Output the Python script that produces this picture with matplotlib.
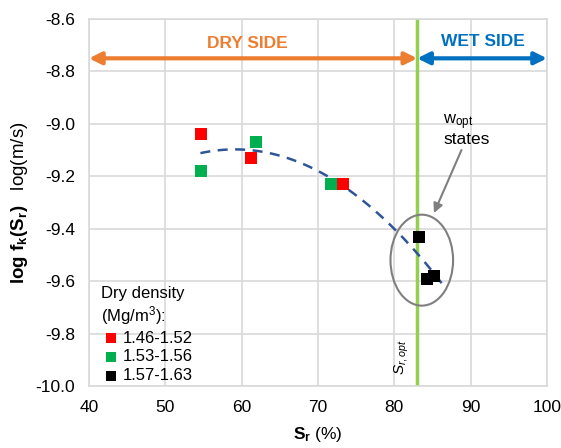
import numpy as np
import matplotlib.pyplot as plt
from matplotlib.patches import Ellipse

plt.rcParams['font.family'] = ['Liberation Sans', 'DejaVu Sans']
plt.rcParams['mathtext.fontset'] = 'custom'
plt.rcParams['mathtext.rm'] = 'Liberation Sans'
plt.rcParams['mathtext.it'] = 'Liberation Sans:italic'
plt.rcParams['mathtext.bf'] = 'Liberation Sans:bold'

# data
sr_low = [54.7, 61.2, 73.3]
logk_low = [-9.04, -9.13, -9.23]
sr_mid = [54.7, 61.9, 71.7]
logk_mid = [-9.18, -9.07, -9.23]
sr_high = [83.2, 84.3, 85.2]
logk_high = [-9.43, -9.59, -9.58]
groups = ['1.46-1.52', '1.53-1.56', '1.57-1.63']
colors = ['#FF0000', '#00B050', '#000000']
sr_opt = 83.0

fig = plt.figure(figsize=(5.61, 4.48), dpi=100)
ax = fig.add_axes([0.1586, 0.1384, 0.8164, 0.8192])

# quadratic trend line through all points
x_all = np.array(sr_low + sr_mid + sr_high)
y_all = np.array(logk_low + logk_mid + logk_high)
p = np.polyfit(x_all, y_all, 2)
xt = np.linspace(54.6, 86.2, 100)
ax.plot(xt, np.polyval(p, xt), '--', color='#2F5597', lw=1.8, dashes=(4, 3), zorder=3)

for xs, ys, c, g in zip([sr_low, sr_mid, sr_high], [logk_low, logk_mid, logk_high], colors, groups):
    ax.scatter(xs, ys, marker='s', s=75, color=c, label=g, zorder=4, linewidths=0)

# optimum line
ax.axvline(sr_opt, color='#92D050', lw=2.5, zorder=2)
ax.text(sr_opt - 2.0, -9.89, r'$S_{r,opt}$', rotation=90, ha='center', va='center', fontsize=11)

# dry / wet side arrows
ax.annotate('', xy=(40, -8.75), xytext=(sr_opt, -8.75),
            arrowprops=dict(arrowstyle='<|-|>', color='#ED7D31', lw=3, mutation_scale=18, shrinkA=0, shrinkB=0))
ax.annotate('', xy=(sr_opt, -8.75), xytext=(100, -8.75),
            arrowprops=dict(arrowstyle='<|-|>', color='#0070C0', lw=3, mutation_scale=18, shrinkA=0, shrinkB=0))
ax.text(60.8, -8.695, 'DRY SIDE', color='#ED7D31', fontsize=12.5, fontweight='bold', ha='center', va='center')
ax.text(91.6, -8.685, 'WET SIDE', color='#0070C0', fontsize=12.5, fontweight='bold', ha='center', va='center')

# w_opt states ellipse + arrow
ax.add_patch(Ellipse((83.6, -9.52), 8.2, 0.347, fill=False, edgecolor='#7F7F7F', lw=1.5, zorder=5))
ax.annotate('', xy=(85.2, -9.34), xytext=(88.8, -9.10),
            arrowprops=dict(arrowstyle='-|>', color='#7F7F7F', lw=1.5, mutation_scale=14, shrinkA=0, shrinkB=0))
ax.text(86.4, -8.995, r'w$_{\mathregular{opt}}$', fontsize=12, ha='left', va='center')
ax.text(86.4, -9.06, 'states', fontsize=12.5, ha='left', va='center')

ax.set_xlim(40, 100)
ax.set_ylim(-10.0, -8.6)
ax.set_xticks(np.arange(40, 101, 10))
ax.set_yticks(np.arange(-10.0, -8.59, 0.2))
ax.set_yticklabels(['%.1f' % v for v in np.arange(-10.0, -8.59, 0.2)])
ax.tick_params(length=0, labelsize=12.5, pad=10)
ax.grid(color='#D9D9D9', lw=1.2)
ax.set_axisbelow(True)
for s in ax.spines.values():
    s.set_color('#D9D9D9')
    s.set_linewidth(1.2)

ax.set_xlabel(r'$\mathbf{S_r}$ (%)', fontsize=12.5, labelpad=7)
ax.set_ylabel(r'$\mathbf{log\ f_k(S_r)}$   log(m/s)', fontsize=13.5, labelpad=4)

leg = ax.legend(title='Dry density\n(Mg/m$^3$):', loc='upper left', bbox_to_anchor=(0.0, 0.305),
                frameon=False, fontsize=12, title_fontsize=12, handletextpad=0.1,
                labelspacing=0.22, borderaxespad=0.3, handlelength=1.2, markerscale=0.9)
leg._legend_box.align = 'left'

fig.savefig('out.png', dpi=100)
